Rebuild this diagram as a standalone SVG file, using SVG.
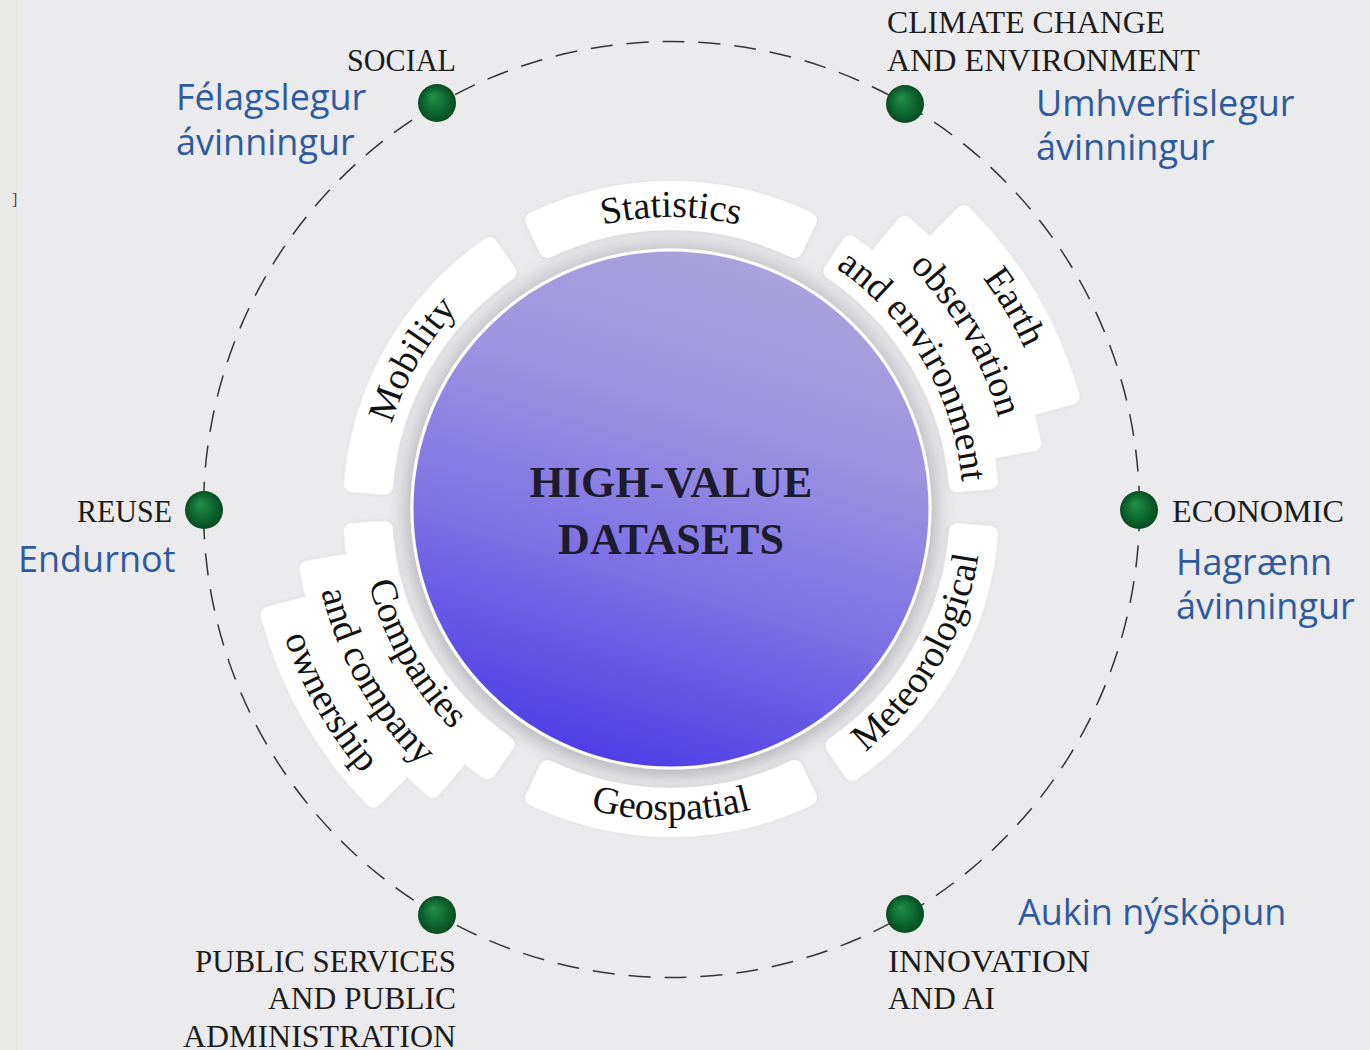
<svg xmlns="http://www.w3.org/2000/svg" width="1370" height="1050" viewBox="0 0 1370 1050">
<style>
.band { fill:#ffffff; stroke:#ffffff; stroke-width:16; stroke-linejoin:round; }
.bl { font-family:"Liberation Serif","Times New Roman",serif; font-size:38px; fill:#121212; }
.cap { font-family:"Liberation Serif","Times New Roman",serif; font-size:31px; fill:#1c1c1c; }
.is { font-family:"Open Sans","Noto Sans",sans-serif; font-size:36px; fill:#2f5b9e; }
.title { font-family:"Liberation Serif","Times New Roman",serif; font-size:44px; font-weight:bold; fill:#1d1b2e; text-anchor:middle; }
.dot { fill:url(#dotg); }
</style>
<defs>
  <linearGradient id="cg" x1="0.62" y1="0" x2="0.32" y2="1">
    <stop offset="0" stop-color="#aaa3db"/>
    <stop offset="0.3" stop-color="#9d93e0"/>
    <stop offset="0.65" stop-color="#7a6de6"/>
    <stop offset="1" stop-color="#4b3ae6"/>
  </linearGradient>
  <radialGradient id="dotg" cx="0.5" cy="0.5" r="0.5" fx="0.38" fy="0.32">
    <stop offset="0" stop-color="#23904a"/>
    <stop offset="0.6" stop-color="#0e6a31"/>
    <stop offset="1" stop-color="#084a21"/>
  </radialGradient>
  <filter id="bsh" x="-20%" y="-20%" width="140%" height="140%">
    <feDropShadow dx="0" dy="1" stdDeviation="2" flood-color="#000" flood-opacity="0.08"/>
  </filter>
  <filter id="csh" x="-20%" y="-20%" width="140%" height="140%">
    <feDropShadow dx="0" dy="3" stdDeviation="9" flood-color="#000" flood-opacity="0.2"/>
  </filter>
  <filter id="blur8" x="-20%" y="-20%" width="140%" height="140%">
    <feGaussianBlur stdDeviation="7"/>
  </filter>
  <path id="band1" d="M -137.8 -288.8 A 320 320 0 0 1 137.8 -288.8 L 123.6 -259.0 A 287 287 0 0 0 -123.6 -259.0 Z"/>
  <path id="band2" d="M -127.1 -345.4 A 368 368 0 0 1 127.1 -345.4 L 113.9 -309.7 A 330 330 0 0 0 -113.9 -309.7 Z"/>
  <path id="band3" d="M -106.2 -402.2 A 416 416 0 0 1 106.2 -402.2 L 96.5 -365.5 A 378 378 0 0 0 -96.5 -365.5 Z"/>
  <path id="tTop292" d="M -206.5 -206.5 A 292 292 0 0 1 206.5 -206.5"/>
  <path id="tTop340" d="M -240.4 -240.4 A 340 340 0 0 1 240.4 -240.4"/>
  <path id="tTop388" d="M -274.4 -274.4 A 388 388 0 0 1 274.4 -274.4"/>
  <path id="tBot311" d="M -219.9 219.9 A 311 311 0 0 0 219.9 219.9"/>
  <path id="tBot359" d="M -253.9 253.9 A 359 359 0 0 0 253.9 253.9"/>
  <path id="tBot407" d="M -287.8 287.8 A 407 407 0 0 0 287.8 287.8"/>
</defs>

<rect x="0" y="0" width="1370" height="1050" fill="#ebebed"/>
<rect x="0" y="0" width="17" height="1050" fill="#e8e8e4"/>
<text x="12" y="205" font-family="Liberation Serif, serif" font-size="16" fill="#444">]</text>

<g id="connectors">
  <circle cx="671.5" cy="509.5" r="468" fill="none" stroke="#333" stroke-width="1.5" stroke-dasharray="22 14"/>
</g>

<g id="node-center">
  <circle cx="671" cy="509" r="274" fill="#dcdce0" filter="url(#blur8)"/>
  <circle cx="671" cy="509" r="259" fill="url(#cg)" stroke="#ffffff" stroke-width="3" filter="url(#csh)"/>
  <text class="title" x="671" y="497">HIGH-VALUE</text>
  <text class="title" x="671" y="554">DATASETS</text>
</g>

<g id="node-statistics" transform="translate(671 509)">
  <use href="#band1" class="band" filter="url(#bsh)"/>
  <text class="bl" text-anchor="middle"><textPath href="#tTop292" startOffset="50%">Statistics</textPath></text>
</g>

<g id="node-mobility" transform="translate(671 509) rotate(-60)">
  <use href="#band1" class="band" filter="url(#bsh)"/>
  <text class="bl" text-anchor="middle"><textPath href="#tTop292" startOffset="50%">Mobility</textPath></text>
</g>

<g id="node-earth" transform="translate(671 509) rotate(59.5)">
  <g filter="url(#bsh)">
    <use href="#band3" class="band"/>
    <use href="#band2" class="band"/>
    <use href="#band1" class="band"/>
  </g>
  <text class="bl" text-anchor="middle"><textPath href="#tTop388" startOffset="50%">Earth</textPath></text>
  <text class="bl" text-anchor="middle"><textPath href="#tTop340" startOffset="50%">observation</textPath></text>
  <text class="bl" text-anchor="middle"><textPath href="#tTop292" startOffset="50%">and environment</textPath></text>
</g>

<g id="node-meteorological" transform="translate(671 509)">
  <use href="#band1" class="band" filter="url(#bsh)" transform="rotate(120)"/>
  <text class="bl" text-anchor="middle" transform="rotate(-60)"><textPath href="#tBot311" startOffset="50%">Meteorological</textPath></text>
</g>

<g id="node-geospatial" transform="translate(671 509)">
  <use href="#band1" class="band" filter="url(#bsh)" transform="rotate(180)"/>
  <text class="bl" text-anchor="middle"><textPath href="#tBot311" startOffset="50%">Geospatial</textPath></text>
</g>

<g id="node-companies" transform="translate(671 509)">
  <g filter="url(#bsh)" transform="rotate(240.5)">
    <use href="#band3" class="band"/>
    <use href="#band2" class="band"/>
    <use href="#band1" class="band"/>
  </g>
  <g transform="rotate(60.5)">
    <text class="bl" text-anchor="middle"><textPath href="#tBot311" startOffset="50%">Companies</textPath></text>
    <text class="bl" text-anchor="middle"><textPath href="#tBot359" startOffset="50%">and company</textPath></text>
    <text class="bl" text-anchor="middle"><textPath href="#tBot407" startOffset="50%">ownership</textPath></text>
  </g>
</g>

<g id="node-social">
  <circle class="dot" cx="437" cy="103" r="19"/>
  <text class="cap" x="347" y="71" textLength="109" lengthAdjust="spacingAndGlyphs">SOCIAL</text>
  <text class="is" x="176" y="110">Félagslegur</text>
  <text class="is" x="176" y="155">ávinningur</text>
</g>

<g id="node-climate">
  <circle class="dot" cx="905" cy="104" r="19"/>
  <text class="cap" x="887" y="33" textLength="278" lengthAdjust="spacingAndGlyphs">CLIMATE CHANGE</text>
  <text class="cap" x="887" y="71" textLength="313" lengthAdjust="spacingAndGlyphs">AND ENVIRONMENT</text>
  <text class="is" x="1036" y="116">Umhverfislegur</text>
  <text class="is" x="1036" y="160">ávinningur</text>
</g>

<g id="node-reuse">
  <circle class="dot" cx="204" cy="510" r="19"/>
  <text class="cap" x="77" y="522" textLength="95" lengthAdjust="spacingAndGlyphs">REUSE</text>
  <text class="is" x="18" y="572">Endurnot</text>
</g>

<g id="node-economic">
  <circle class="dot" cx="1139" cy="510" r="19"/>
  <text class="cap" x="1172" y="522" textLength="172" lengthAdjust="spacingAndGlyphs">ECONOMIC</text>
  <text class="is" x="1176" y="575">Hagrænn</text>
  <text class="is" x="1176" y="619">ávinningur</text>
</g>

<g id="node-public">
  <circle class="dot" cx="437" cy="915" r="19"/>
  <text class="cap" x="195" y="972" textLength="261" lengthAdjust="spacingAndGlyphs">PUBLIC SERVICES</text>
  <text class="cap" x="268" y="1009" textLength="188" lengthAdjust="spacingAndGlyphs">AND PUBLIC</text>
  <text class="cap" x="183" y="1047" textLength="273" lengthAdjust="spacingAndGlyphs">ADMINISTRATION</text>
</g>

<g id="node-innovation">
  <circle class="dot" cx="905" cy="914" r="19"/>
  <text class="cap" x="888" y="972" textLength="202" lengthAdjust="spacingAndGlyphs">INNOVATION</text>
  <text class="cap" x="888" y="1009" textLength="107" lengthAdjust="spacingAndGlyphs">AND AI</text>
  <text class="is" x="1018" y="925">Aukin nýsköpun</text>
</g>
</svg>
